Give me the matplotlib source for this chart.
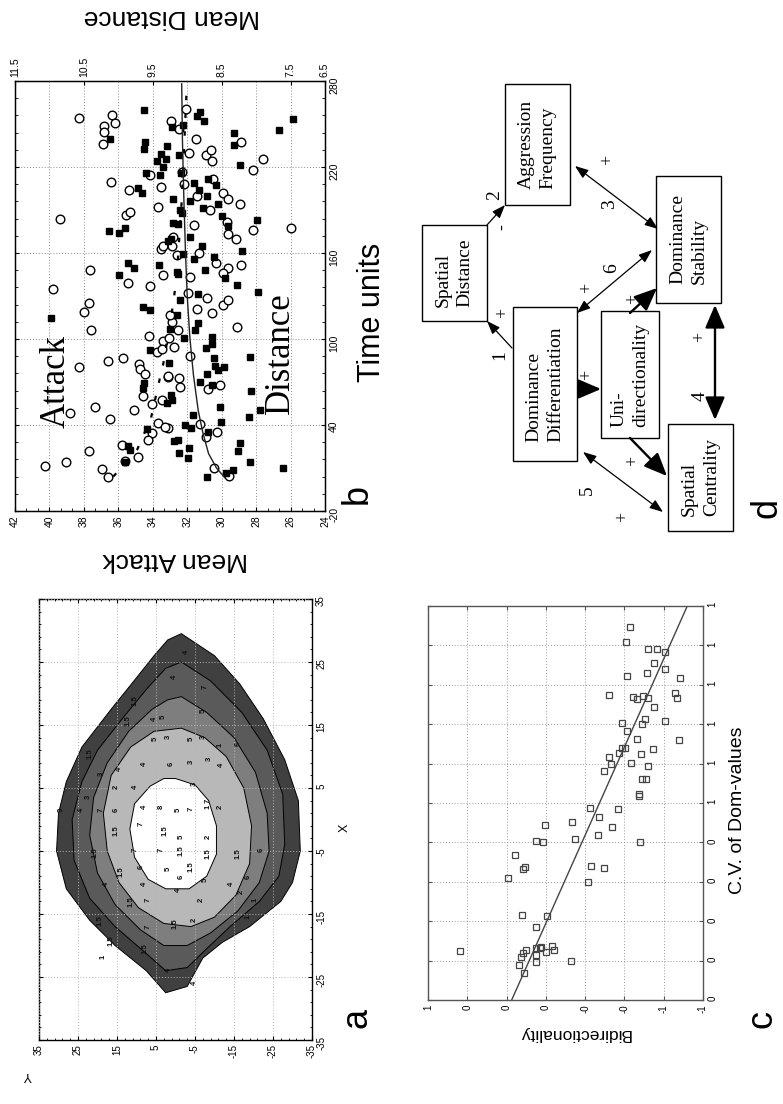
import matplotlib
matplotlib.use("Agg")
import matplotlib.pyplot as plt
from matplotlib.patches import Rectangle
from matplotlib.ticker import AutoMinorLocator

W, H = 783, 1104
plt.rcParams["font.family"] = ["Liberation Sans", "DejaVu Sans"]
SERIF = ["Liberation Serif", "DejaVu Serif"]

# ---------------- panel b: mean attack (circles) / mean distance (squares) ----
atk_val = [38.26, 36.39, 36.19, 36.81, 36.81, 36.91, 32.94, 36.43, 35.36, 34.16,
           33.54, 33.68, 35.55, 35.30, 39.37, 33.54, 33.39, 37.65, 33.39,
           32.09, 32.48, 31.51, 31.90, 30.93, 30.62, 30.58, 28.88, 27.58, 28.16,
           32.28, 32.19, 30.52, 29.90, 29.61, 28.94, 31.45, 30.68, 29.71, 29.61,
           29.17, 28.16, 26.00, 31.61, 32.81, 32.90, 32.57, 31.32, 30.33, 29.65,
           28.88, 29.94,
           39.77, 35.46, 34.16, 37.68, 37.99, 37.59, 34.22, 33.39, 33.06, 33.77,
           33.48, 32.90, 38.28, 36.58, 35.75, 34.80, 34.74, 34.45, 33.14, 34.59,
           34.06, 33.48, 37.35, 38.81, 36.48, 35.07, 33.72, 33.10, 34.03, 34.26,
           35.81, 37.70, 40.26, 39.06, 35.61, 34.84, 36.93,
           31.84, 31.94, 30.87, 31.45, 30.58, 29.90, 29.65, 29.13, 33.00, 32.55,
           32.75, 31.84, 33.10, 32.48, 32.42, 30.10, 30.77, 33.29, 31.26, 30.29,
           30.91, 30.43, 36.6, 29.6]
atk_time = [254.5, 256.1, 250.7, 248.4, 244.5, 235.9, 252.1, 209.6, 203.8, 214.2,
            206.1, 192.1, 186.8, 188.6, 183.5, 163.0, 164.9, 147.9, 144.4,
            260.7, 246.8, 239.8, 230.0, 228.2, 231.7, 224.0, 237.5, 225.9, 217.7,
            216.5, 208.4, 211.4, 201.9, 197.5, 194.0, 199.8, 190.3, 181.7, 173.5,
            169.6, 175.8, 177.5, 179.3, 171.2, 164.9, 158.4, 160.3, 153.3, 149.6,
            151.4, 146.3,
            135.0, 139.2, 136.9, 124.9, 118.6, 106.5, 102.3, 98.8, 100.4, 90.6,
            93.0, 111.6, 80.6, 84.8, 86.4, 82.5, 79.0, 75.4, 73.8, 60.3,
            54.4, 57.2, 52.8, 48.1, 43.9, 50.2, 41.6, 38.1, 34.6, 29.4,
            25.9, 21.7, 11.2, 14.0, 14.7, 17.5, 9.4,
            143.5, 131.9, 128.8, 120.9, 117.9, 123.7, 127.2, 108.6, 116.7, 106.3,
            94.6, 88.4, 74.4, 72.5, 66.7, 67.9, 65.1, 38.8, 40.4, 35.3,
            31.8, 9.7, 3.5, 4.5]

dst_val = [9.632, 9.216, 10.126, 9.613, 9.627, 9.298, 9.385, 9.313, 9.443, 9.356,
           9.598, 9.400, 9.710, 9.661, 9.206, 9.211, 10.135, 9.990, 9.903, 9.274,
           9.240, 9.864, 9.777, 9.410, 9.990,
           8.815, 8.854, 8.752, 9.057, 8.316, 8.316, 9.120, 8.234, 9.091, 8.897,
           8.704, 8.582, 8.825, 8.718, 8.960, 8.558, 8.776, 9.105, 9.071, 8.500,
           9.139, 8.404, 7.983, 7.663, 7.470, 8.210, 8.960, 8.791, 9.057, 8.897,
           8.607, 8.742, 9.139,
           10.977, 9.637, 9.540, 9.540, 9.250, 9.637, 9.622, 9.298, 9.589, 9.855,
           9.831, 9.903, 9.187,
           9.154, 8.283, 8.452, 7.978, 8.839, 9.105, 9.154, 8.839, 8.888, 8.646,
           8.636, 9.042, 8.733, 8.607, 8.597, 8.462, 8.549, 8.718, 8.815, 8.646,
           9.226, 8.089, 8.075, 8.104, 7.944, 8.525, 8.510, 8.912, 9.033, 8.946,
           8.694, 8.234, 8.268, 9.129, 9.120, 8.975, 8.994, 8.089, 7.605, 8.331,
           9.265, 9.236, 8.71, 8.43]
dst_time = [260.0, 247.9, 239.8, 237.5, 232.4, 234.7, 229.3, 225.9, 224.0, 220.0,
            215.8, 214.2, 205.4, 201.9, 197.5, 181.2, 175.6, 173.7, 177.5, 168.4,
            170.0, 153.3, 149.6, 151.4, 144.4,
            258.4, 255.6, 251.9, 249.6, 244.0, 235.6, 228.2, 221.7, 216.1, 209.1,
            211.4, 207.7, 203.8, 199.8, 196.1, 194.0, 191.7, 189.8, 188.2, 185.8,
            180.5, 178.9, 182.8, 246.1, 253.8, 161.4, 171.2, 164.9, 159.6, 155.6,
            157.2, 147.9, 145.6,
            114.4, 122.1, 120.5, 92.5, 107.0, 66.1, 69.6, 55.6, 36.9, 25.2,
            22.9, 14.0, 28.7,
            147.0, 137.7, 142.3, 133.0, 131.2, 127.2, 116.7, 110.9, 106.3, 101.6,
            96.3, 100.5, 93.5, 86.5, 81.2, 80.2, 78.4, 75.3, 69.8, 67.9,
            57.4, 87.7, 63.7, 45.8, 50.4, 52.8, 41.8, 46.9, 40.0, 37.7,
            35.3, 27.7, 21.8, 29.5, 20.2, 23.7, 16.7, 13.9, 9.7, 8.6,
            83.5, 60.9, 4.0, 6.5]

dst_fit_time = [3, 10, 20, 35, 50, 75, 100, 130, 160, 200, 240, 278]
dst_fit_val = [8.45, 8.575, 8.69, 8.775, 8.84, 8.91, 8.96, 9.0, 9.025, 9.05, 9.07, 9.08]
atk_fit_time = [4, 9, 23, 45, 72, 82, 110, 126, 145, 200, 270]
atk_fit_val = [36.3, 35.9, 34.9, 34.1, 33.6, 33.4, 33.0, 32.8, 32.6, 32.3, 32.05]

atk_ticks = [42, 40, 38, 36, 34, 32, 30, 28, 26, 24]
time_ticks = [-20, 40, 100, 160, 220, 280]
dst_ticks = [11.5, 10.5, 9.5, 8.5, 7.5, 7.0]
dst_ticklabels = ["11.5", "10.5", "9.5", "8.5", "7.5", "6.5"]

# ---------------- panel a: contour rings (X, Y) and point labels -------------
ring_X = [
    [29.5, 26, 21.5, 16, 9.5, 3, -5, -10, -13, -17, -19.5, -22, -26.5, -27.5,
     -24, -20, -16, -11, -5, 1, 6, 11.5, 17.5, 22.5, 26, 28.5],
    [25, 22, 17, 11, 4, -4, -9, -13, -17, -20.5, -23.5, -24, -21, -17, -12.5,
     -6.5, 0, 6, 11, 16.5, 21, 24],
    [19.5, 17, 13, 7.5, 1, -5, -10, -14.5, -18, -20, -20, -17.5, -13.5, -8.5,
     -2.5, 3.5, 9, 14, 17.5, 19],
    [14.5, 13, 10, 5, -1, -7, -12, -15.5, -17, -16.5, -14, -10, -5, 1, 7, 11.5, 14],
    [6.5, 5.5, 3, -1, -5.5, -9, -11, -11, -9.5, -6, -1.5, 2.5, 5.3, 6.5],
]
ring_Y = [
    [-1.5, -10, -16.5, -22.5, -28, -31.5, -32, -30, -27, -19, -12, -7, -3, 2.5,
     7.5, 15.5, 22, 28, 30.5, 30, 28, 24, 16.5, 10, 5.5, 2],
    [-1.5, -9, -17, -23.5, -27.5, -28, -26.5, -21.5, -14, -8, -3, 2.5, 8, 15.5,
     22, 26, 26.5, 24, 20, 13, 7, 2.5],
    [-1.5, -8, -15, -20.5, -23.5, -24, -21.5, -16, -9, -3, 3, 9, 15.5, 20, 22,
     21, 17.5, 12, 6, 2],
    [-1.5, -7.5, -13, -17.5, -19.5, -19, -15.5, -10, -4, 3, 9.5, 14.5, 17.5,
     18.5, 16.5, 11.5, 5.5],
    [0, -5, -8.5, -10.5, -10.5, -8, -3.5, 2.5, 7, 10.5, 11.7, 10.5, 6.5, 3],
]
ring_colors = ["#404040", "#5a5a5a", "#7e7e7e", "#b8b8b8", "#ffffff"]

lbl_X = [26.6, 22.7, 18.9, 21.0, 15.7, 16.0, 16.3, 17.3, 12.8, 13.1, 12.8, 13.1,
         11.8, 12.0, 10.5, 7.3, 8.1, 8.9, 8.9, 9.1, 9.7, 8.6, 3.6, 5.2, 5.2, 5.7,
         3.0, 2.0, 1.5, 1.5, 1.5, 1.5, 2.0, 2.0, 1.5, 1.7, 2.0, -1.7, -0.7, -1.7,
         -2.8, -2.8, -5.2, -4.9, -4.9, -4.9, -5.4, -5.4, -4.9, -8.3, -7.5, -7.8,
         -7.5, -9.1, -10.2, -10.2, -9.1, -9.6, -10.2, -13.1, -12.8, -11.2, -12.8,
         -11.5, -12.8, -16.0, -17.1, -16.5, -16.0, -15.5, -19.2, -20.5, -23.9,
         -26.0, -21.8]
lbl_Y = [-2.8, 0.2, 10.4, -7.5, 12.2, 5.3, 3.2, -7.1, 5.3, 1.9, -4.1, -7.1,
         -11.4, -16.1, 22.0, 19.0, 14.3, 7.9, 1.0, -4.1, -8.8, -11.8, 22.4, 15.2,
         10.4, -4.9, -8.4, -11.4, 29.3, 24.1, 19.0, 15.2, 7.9, 3.6, -0.7, -4.1,
         -8.4, 15.2, 8.7, 2.8, -1.5, -8.4, 20.7, 10.4, 3.6, -1.5, -8.4, -16.1,
         -22.0, 13.9, 8.7, 1.9, -4.1, -18.6, 17.7, 7.9, -1.5, -7.5, -14.3, 11.3,
         7.0, -0.7, -6.6, -16.9, -20.3, 19.4, 7.0, 0.2, -4.9, -18.6, 16.4, 7.9,
         1.9, -4.9, 18.6]
lbl_txt = ["4", "4", "1.5", "7", "1.5", "4", "5", "5", "5", "3", "5", "3",
           "1", "6", "1.5", "3", "4", "4", "6", "3", "3", "4", "3", "2", "4", "3",
           "7", "2", "3", "4", "7", "6", "4", "8", "5", "7", "1", "1.5", "7", "1.5",
           "5", "2", "1.5", "7", "7", "1.5", "1.5", "1.5", "6", "1.5", "6", "5",
           "1.5", "6", "4", "4", "6", "5", "4", "1.5", "7", "4", "2",
           "2", "1", "1.5", "7", "1.5", "2", "1", "1.5", "1.5", "4",
           "4", "1"]

grid_ticks_a = [35, 25, 15, 5, -5, -15, -25, -35]

# ---------------- panel c: bidirectionality vs C.V. of dom-values ------------
bidir = [0.439, 0.137, 0.128, 0.116, 0.099, 0.113, 0.048, 0.052, 0.048, 0.028,
         0.023, 0.001, -0.033, -0.043, -0.126, 0.052, 0.121, -0.008, 0.193, 0.116,
         0.108, 0.159, 0.048, 0.015, 0.006, -0.135, -0.150, -0.213, -0.232, -0.296,
         -0.265, -0.272, -0.337, -0.226, -0.369, -0.481, -0.296, -0.330, -0.321,
         -0.374, -0.388, -0.401, -0.432, -0.476, -0.476, -0.488, -0.508, -0.518,
         -0.483, -0.545, -0.462, -0.415, -0.386, -0.489, -0.506, -0.552, -0.605,
         -0.676, -0.320, -0.445, -0.464, -0.495, -0.520, -0.658, -0.668, -0.411,
         -0.517, -0.551, -0.605, -0.681, -0.406, -0.520, -0.566, -0.607, -0.427]
cv_dom = [0.124, 0.089, 0.110, 0.119, 0.128, 0.069, 0.096, 0.113, 0.133, 0.131,
          0.135, 0.122, 0.138, 0.126, 0.098, 0.185, 0.216, 0.213, 0.309, 0.333,
          0.337, 0.369, 0.404, 0.401, 0.443, 0.452, 0.408, 0.300, 0.341, 0.335,
          0.420, 0.464, 0.439, 0.488, 0.484, 0.401, 0.581, 0.599, 0.617, 0.626,
          0.639, 0.640, 0.601, 0.523, 0.517, 0.560, 0.561, 0.594, 0.624, 0.638,
          0.662, 0.682, 0.704, 0.700, 0.714, 0.744, 0.708, 0.660, 0.775, 0.769,
          0.765, 0.772, 0.766, 0.778, 0.766, 0.823, 0.830, 0.855, 0.841, 0.817,
          0.908, 0.892, 0.892, 0.883, 0.946]
fit_cv = [0.0, 1.0]
fit_bidir = [0.174, -0.72]
bidir_ticks = [0.6, 0.4, 0.2, 0.0, -0.2, -0.4, -0.6, -0.8]
bidir_ticklabels = ["1", "0", "0", "0", "-0", "-0", "-1", "-1"]
cv_ticks = [0.0, 0.1, 0.2, 0.3, 0.4, 0.5, 0.6, 0.7, 0.8, 0.9, 1.0]
cv_ticklabels = ["0", "0", "0", "0", "0", "1", "1", "1", "1", "1", "1"]

# ---------------- panel d: path diagram ---------------------------------------
node_text = ["Spatial\nDistance", "Aggression\nFrequency", "Dominance\nDifferentiation",
             "Uni-\ndirectionality", "Dominance\nStability", "Spatial\nCentrality"]
edge_label = ["1", "2", "3", "4", "5", "6"]

# layout of panel d in figure pixels (x right, y down)
node_box = [(422, 225, 487, 321), (505, 84, 570, 205), (513, 307, 577, 461),
            (601, 311, 659, 438), (656, 176, 721, 303), (668, 424, 733, 531)]
arrows = [  # (start, end, style, thick)
    ((512, 348), (487, 321), "-|>", False),
    ((487, 225), (505, 205), "-|>", False),
    ((575, 166), (658, 229), "<|-|>", False),
    ((715, 305), (715, 420), "<|-|>", True),
    ((583, 452), (663, 512), "<|-|>", False),
    ((577, 313), (652, 250), "<|-|>", False),
    ((578, 389), (601, 389), "-|>", True),
    ((630, 313), (657, 288), "-|>", True),
    ((630, 438), (667, 476), "-|>", True),
]
number_pos = [(500, 355), (495, 195), (610, 204), (700, 396), (587, 490), (612, 268)]
sign_pos = [(503, 313, "+"), (503, 227, "-"), (608, 160, "+"), (700, 337, "+"),
            (623, 517, "+"), (587, 288, "+"), (587, 375, "+"), (633, 299, "+"),
            (633, 461, "+")]

# ---------------- drawing ------------------------------------------------------
fig = plt.figure(figsize=(W / 100, H / 100), dpi=100)


def px_axes(l, t, r, b):
    return fig.add_axes([l / W, 1 - b / H, (r - l) / W, (b - t) / H])


def ftext(x, y, s, **kw):
    fig.text(x / W, 1 - y / H, s, ha="center", va="center", **kw)


def frame(ax, color):
    for sp in ax.spines.values():
        sp.set_color(color)
        sp.set_linewidth(1.0)


GRID = dict(ls=(0, (1, 2)), lw=0.7)

# panel b
ax_b = px_axes(15, 81, 325, 511)
ax_b.set_xlim(42, 24)
ax_b.set_ylim(-20, 280)
ax_b.plot(atk_val, atk_time, "o", ms=6.2, mfc="white", mec="black", mew=1.0)
ax_b.plot(atk_fit_val, atk_fit_time, color="black", lw=1.6, ls=(0, (2, 6)))
ax_b2 = ax_b.twiny()
ax_b2.set_xlim(11.5, 7.0)
ax_b2.plot(dst_val, dst_time, "s", ms=4.8, color="black")
ax_b2.plot(dst_fit_val, dst_fit_time, color="#222222", lw=1.0)
ax_b.set_xticks(atk_ticks)
ax_b.set_xticklabels([str(v) for v in atk_ticks])
ax_b.set_yticks(time_ticks)
ax_b.set_yticklabels([str(v) for v in time_ticks])
ax_b.xaxis.set_minor_locator(AutoMinorLocator(3))
ax_b.yaxis.set_minor_locator(AutoMinorLocator(5))
ax_b.tick_params(which="both", direction="in", top=False, bottom=True, left=True,
                 right=True, labelleft=False, labelright=True, labelsize=7.5,
                 labelrotation=90, pad=3)
ax_b.tick_params(which="major", length=3)
ax_b.tick_params(which="minor", length=2)
ax_b.grid(True, which="major", color="#8a8a8a", **GRID)
ax_b2.set_xticks(dst_ticks)
ax_b2.set_xticklabels(dst_ticklabels)
ax_b2.tick_params(direction="in", length=3, labelsize=7.5, labelrotation=90, pad=3)
frame(ax_b, "black")
ax_b.text(39.6, 70, "Attack", family=SERIF, fontsize=25, rotation=90,
          ha="center", va="center")
ax_b.text(26.6, 90, "Distance", family=SERIF, fontsize=25, rotation=90,
          ha="center", va="center")

# panel a
ax_a = px_axes(39, 599, 312, 1040)
ax_a.set_xlim(35, -35)
ax_a.set_ylim(-35, 35)
for i, (xs, ys, col) in enumerate(zip(ring_X, ring_Y, ring_colors)):
    ax_a.fill(ys, xs, facecolor=col, edgecolor="black", lw=0.7, zorder=1 + 0.1 * i)
for x, y, t in zip(lbl_X, lbl_Y, lbl_txt):
    ax_a.text(y, x, t, fontsize=5.5, fontweight="bold", rotation=90,
              ha="center", va="center", color="#111111", zorder=4)
ax_a.set_xticks(grid_ticks_a)
ax_a.set_xticklabels([str(v) for v in grid_ticks_a])
ax_a.set_yticks(grid_ticks_a)
ax_a.set_yticklabels([str(v) for v in grid_ticks_a])
ax_a.xaxis.set_minor_locator(AutoMinorLocator(5))
ax_a.yaxis.set_minor_locator(AutoMinorLocator(5))
ax_a.tick_params(which="both", direction="in", top=True, bottom=True, left=True,
                 right=True, labelleft=False, labelright=True, labelsize=7,
                 labelrotation=90, pad=3)
ax_a.tick_params(which="major", length=3)
ax_a.tick_params(which="minor", length=1.5)
ax_a.set_axisbelow(False)
ax_a.grid(True, which="major", color="#b5b5b5", **GRID)
frame(ax_a, "black")

# panel c
ax_c = px_axes(428, 606, 703, 1000)
ax_c.set_xlim(0.6, -0.8)
ax_c.set_ylim(0, 1.0)
ax_c.plot(bidir, cv_dom, "s", ms=4.6, mfc="none", mec="#444444", mew=0.9)
ax_c.plot(fit_bidir, fit_cv, color="#444444", lw=1.0)
ax_c.set_xticks(bidir_ticks)
ax_c.set_xticklabels(bidir_ticklabels)
ax_c.set_yticks(cv_ticks)
ax_c.set_yticklabels(cv_ticklabels)
ax_c.tick_params(which="both", direction="in", top=True, bottom=True, left=True,
                 right=True, labelleft=False, labelright=True, labelsize=7,
                 labelrotation=90, pad=3, color="#555555")
ax_c.tick_params(which="major", length=3)
ax_c.grid(True, which="major", color="#9a9a9a", **GRID)
frame(ax_c, "#555555")

# panel d
ax_d = px_axes(390, 0, 783, 560)
ax_d.set_xlim(390, 783)
ax_d.set_ylim(560, 0)
ax_d.axis("off")
for (l, t, r, b), txt in zip(node_box, node_text):
    ax_d.add_patch(Rectangle((l, t), r - l, b - t, fill=False, lw=1.0,
                             edgecolor="black"))
    ax_d.text((l + r) / 2, (t + b) / 2, txt, family=SERIF, fontsize=14,
              rotation=90, ha="center", va="center", multialignment="left",
              linespacing=1.35)
for p0, p1, style, thick in arrows:
    if thick:
        sty = f"{style},head_length=1.4,head_width=0.6"
        lw = 1.7
    else:
        sty = f"{style},head_length=0.8,head_width=0.3"
        lw = 0.9
    ax_d.annotate("", xy=p1, xytext=p0,
                  arrowprops=dict(arrowstyle=sty, lw=lw, color="black",
                                  shrinkA=0, shrinkB=0))
for (x, y), s in zip(number_pos, edge_label):
    ax_d.text(x, y, s, family=SERIF, fontsize=14, rotation=90,
              ha="center", va="center")
for x, y, s in sign_pos:
    ax_d.text(x, y, s, family=SERIF, fontsize=13, rotation=90,
              ha="center", va="center")

# free-standing titles and panel letters
ftext(172, 17, "Mean Distance", fontsize=19, rotation=180)
ftext(372, 312, "Time units", fontsize=22, rotation=90)
ftext(175, 560, "Mean Attack", fontsize=19, rotation=180)
ftext(345, 828, "X", fontsize=9, rotation=90)
ftext(28, 1075, "Y", fontsize=9, rotation=180)
ftext(575, 1034, "Bidirectionality", fontsize=12.5, rotation=180)
ftext(737, 810, "C.V. of Dom-values", fontsize=14, rotation=90)
for x, y, s in [(357, 494, "b"), (357, 1018, "a"), (762, 1019, "c"), (767, 508, "d")]:
    ftext(x, y, s, fontsize=26, rotation=90)

fig.savefig("out.png", dpi=100)
